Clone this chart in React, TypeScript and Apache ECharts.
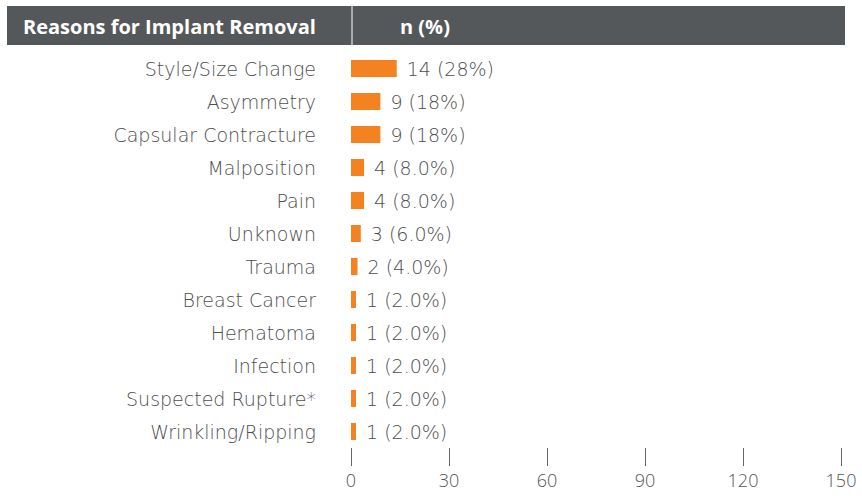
import React, { useEffect, useRef } from "react";
import * as echarts from "echarts";

const categories = [
  "Style/Size Change",
  "Asymmetry",
  "Capsular Contracture",
  "Malposition",
  "Pain",
  "Unknown",
  "Trauma",
  "Breast Cancer",
  "Hematoma",
  "Infection",
  "Suspected Rupture*",
  "Wrinkling/Ripping",
];
const counts = [14, 9, 9, 4, 4, 3, 2, 1, 1, 1, 1, 1];
const percents = ["28%", "18%", "18%", "8.0%", "8.0%", "6.0%", "4.0%", "2.0%", "2.0%", "2.0%", "2.0%", "2.0%"];
const xTicks = [0, 30, 60, 90, 120, 150];
const headerLeft = "Reasons for Implant Removal";
const headerRight = "n (%)";

export default function App() {
  const ref = useRef<HTMLDivElement>(null);
  useEffect(() => {
    if (!ref.current) return;
    const chart = echarts.init(ref.current, null, { renderer: "svg" });
    const font = "'DejaVu Sans'";
    const hfont = "'Open Sans'";
    chart.setOption({
      animation: false,
      backgroundColor: "#ffffff",
      graphic: [
        {
          type: "rect",
          shape: { x: 7, y: 6, width: 838, height: 39 },
          style: { fill: "#55585a" },
          silent: true,
        },
        {
          type: "line",
          shape: { x1: 352, y1: 6, x2: 352, y2: 45 },
          style: { stroke: "#ffffff", lineWidth: 1 },
          silent: true,
        },
        {
          type: "text",
          x: 23,
          y: 26,
          style: {
            text: headerLeft,
            fill: "#ffffff",
            font: `bold 20px ${hfont}`,
            verticalAlign: "middle",
            align: "left",
          },
        },
        {
          type: "text",
          x: 400,
          y: 26,
          style: {
            text: headerRight,
            fill: "#ffffff",
            font: `bold 20px ${hfont}`,
            verticalAlign: "middle",
            align: "left",
          },
        },
      ],
      grid: { left: 351, right: 21, top: 52, height: 396, containLabel: false },
      xAxis: {
        type: "value",
        min: xTicks[0],
        max: xTicks[xTicks.length - 1],
        interval: 30,
        position: "bottom",
        axisLine: { show: false },
        axisTick: { show: true, length: 18, lineStyle: { color: "#666666", width: 1 } },
        splitLine: { show: false },
        axisLabel: {
          margin: 23,
          color: "#555555",
          fontSize: 18,
          fontFamily: hfont,
          fontWeight: 300,
        },
      },
      yAxis: {
        type: "category",
        data: categories,
        inverse: true,
        axisLine: { show: false },
        axisTick: { show: false },
        axisLabel: {
          margin: 35,
          color: "#4d4e50",
          fontSize: 19,
          fontFamily: font,
          fontWeight: 300,
        },
      },
      series: [
        {
          type: "bar",
          data: counts,
          barWidth: 17,
          barMinHeight: 5,
          itemStyle: { color: "#f58220" },
          label: {
            show: true,
            position: "right",
            distance: 10,
            color: "#4d4e50",
            fontSize: 19,
            fontFamily: font,
            fontWeight: 300,
            formatter: (p: any) => `${counts[p.dataIndex]} (${percents[p.dataIndex]})`,
          },
        },
      ],
    });
    return () => chart.dispose();
  }, []);
  return <div ref={ref} style={{ width: 862, height: 499, position: "absolute", left: 0, top: 0 }} />;
}
